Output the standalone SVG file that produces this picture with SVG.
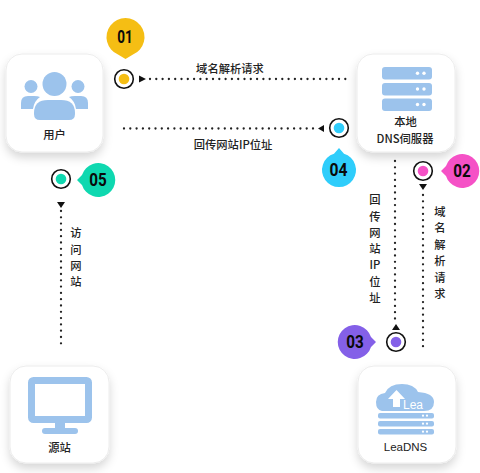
<svg xmlns="http://www.w3.org/2000/svg" width="480" height="473" viewBox="0 0 480 473">
<defs>
<filter id="sh" x="-30%" y="-30%" width="160%" height="170%"><feDropShadow dx="0" dy="5" stdDeviation="5" flood-color="#000" flood-opacity="0.16"/></filter>
</defs>
<style>
.card{fill:#fff;stroke:#ececec;stroke-width:1;filter:url(#sh)}
.ic{fill:#9CC3EC}
.wh{fill:#fff}
.lb{font-family:"Noto Sans CJK SC","Liberation Sans",sans-serif;font-size:11.300px;font-weight:500;fill:#222;text-anchor:middle}
.en{font-family:"Liberation Sans",sans-serif;font-size:11.500px;font-weight:400}
.bd{font-family:Roboto,"Liberation Sans",sans-serif;font-weight:700;font-size:17.500px;fill:#0a0a0a;text-anchor:middle}
.dot{fill:none;stroke:#222;stroke-width:2.300;stroke-linecap:round;stroke-dasharray:0 6.300}
.ring{fill:#fff;stroke:#111;stroke-width:1.600}
</style>
<rect width="480" height="473" fill="#fff"/>
<g id="connectors">
<path class="dot" d="M150 79H348"/>
<path class="dot" d="M313 128.500H120"/>
<path class="dot" d="M395 161V323"/>
<path class="dot" d="M423 195V348"/>
<path class="dot" d="M61 211V346"/>
<path d="M139 75.500L146 79L139 82.500Z" fill="#111"/>
<path d="M324 125L318 128.500L324 132Z" fill="#111"/>
<path d="M419 184L423 190L427 184Z" fill="#111"/>
<path d="M392 330L396 324L400 330Z" fill="#111"/>
<path d="M57 202L61 208L65 202Z" fill="#111"/>
</g>
<g id="node-user">
<rect class="card" x="6" y="54" width="97" height="98" rx="16"/>
<circle class="ic" cx="54.500" cy="84" r="12"/>
<circle class="ic" cx="31" cy="86.500" r="6.500"/>
<circle class="ic" cx="78" cy="86.500" r="6.500"/>
<path class="ic" d="M21 109V103Q21 96 28 96H34Q38 96 40 97Q34 101 33 109Z"/>
<path class="ic" d="M88 109V103Q88 96 81 96H75Q71 96 69 97Q75 101 76 109Z"/>
<path class="ic" d="M34 113Q34 100 48 100H61Q75 100 75 113V114Q75 120 69 120H40Q34 120 34 114Z"/>
<text class="lb" x="54.500" y="139">用户</text>
</g>
<g id="node-dns">
<rect class="card" x="357" y="54" width="98" height="98" rx="16"/>
<rect class="ic" x="382" y="67" width="50" height="12.500" rx="3"/>
<rect class="ic" x="382" y="83" width="50" height="12.500" rx="3"/>
<rect class="ic" x="382" y="98.500" width="50" height="12.500" rx="3"/>
<g class="wh"><circle cx="417.500" cy="73.200" r="1.700"/><circle cx="424" cy="73.200" r="1.700"/><circle cx="417.500" cy="89" r="1.700"/><circle cx="424" cy="89" r="1.700"/><circle cx="417.500" cy="104.500" r="1.700"/><circle cx="424" cy="104.500" r="1.700"/></g>
<text class="lb" x="405.500" y="126">本地</text>
<text class="lb" x="405" y="143">DNS伺服器</text>
</g>
<g id="node-leadns">
<rect class="card" x="358" y="366" width="98" height="97" rx="16"/>
<path class="ic" d="M382 411Q376 410 376 402Q376 394 385 393Q389 384 402 384Q414 384 418 392Q434 393 434 402Q434 411 424 411Z"/>
<path class="wh" d="M388 399L396.500 390L405 399H400V407H393V399Z"/>
<text x="403" y="409" font-family="Liberation Sans,sans-serif" font-size="12" fill="#fff">Lea</text>
<rect class="ic" x="378" y="413" width="56" height="5.500" rx="2"/>
<rect class="ic" x="378" y="421" width="56" height="5.500" rx="2"/>
<rect class="ic" x="378" y="429" width="56" height="5.500" rx="2"/>
<g class="wh"><circle cx="423" cy="415.700" r="1.100"/><circle cx="427" cy="415.700" r="1.100"/><circle cx="423" cy="423.700" r="1.100"/><circle cx="427" cy="423.700" r="1.100"/><circle cx="423" cy="431.700" r="1.100"/><circle cx="427" cy="431.700" r="1.100"/></g>
<text class="lb en" x="405.500" y="451">LeaDNS</text>
</g>
<g id="node-origin">
<rect class="card" x="10" y="366" width="99" height="97" rx="16"/>
<rect x="31.500" y="380.500" width="57" height="39" rx="2" fill="#fff" stroke="#9CC3EC" stroke-width="7"/>
<rect class="ic" x="55" y="423" width="10" height="6"/>
<rect class="ic" x="42" y="428" width="36" height="6" rx="3"/>
<text class="lb" x="59.500" y="452">源站</text>
</g>
<g id="step-01">
<path d="M125.500 59L118 54.500A19 19 0 1 1 133 54.500Z" fill="#F5BE14"/>
<text class="bd" x="125" y="43" textLength="15.500" lengthAdjust="spacingAndGlyphs">01</text>
<circle class="ring" cx="124" cy="79" r="9.300"/><circle cx="124" cy="79" r="5.300" fill="#F5BE14"/>
</g>
<g id="step-02">
<path d="M441 171L446 166A17 17 0 1 1 446 176Z" fill="#F551C6"/>
<text class="bd" x="462" y="177" textLength="17.500" lengthAdjust="spacingAndGlyphs">02</text>
<circle class="ring" cx="423" cy="171" r="9.300"/><circle cx="423" cy="171" r="5.300" fill="#F551C6"/>
</g>
<g id="step-03">
<path d="M376 342L371 347A17 17 0 1 1 371 337Z" fill="#8460E8"/>
<text class="bd" x="355" y="348" textLength="17.500" lengthAdjust="spacingAndGlyphs">03</text>
<circle class="ring" cx="396" cy="342" r="9.300"/><circle cx="396" cy="342" r="5.300" fill="#8460E8"/>
</g>
<g id="step-04">
<path d="M339 148L344 153.800A17 17 0 1 1 334 153.800Z" fill="#2FCDFB"/>
<text class="bd" x="338.500" y="176" textLength="18" lengthAdjust="spacingAndGlyphs">04</text>
<circle class="ring" cx="339" cy="128" r="9.300"/><circle cx="339" cy="128" r="5.300" fill="#2FCDFB"/>
</g>
<g id="step-05">
<path d="M77 180L82 175A17 17 0 1 1 82 185Z" fill="#0FD8B0"/>
<text class="bd" x="98" y="186" textLength="17.500" lengthAdjust="spacingAndGlyphs">05</text>
<circle class="ring" cx="61" cy="179" r="9.300"/><circle cx="61" cy="179" r="5.300" fill="#0FD8B0"/>
</g>
<g id="labels">
<text class="lb" x="230" y="73">域名解析请求</text>
<text class="lb" x="233" y="149">回传网站IP位址</text>
<g class="lb"><text x="76" y="237">访</text><text x="76" y="254">问</text><text x="76" y="270">网</text><text x="76" y="286">站</text>
<text x="375" y="204">回</text><text x="375" y="221">传</text><text x="375" y="237">网</text><text x="375" y="253">站</text><text x="375" y="269">IP</text><text x="375" y="286">位</text><text x="375" y="302">址</text>
<text x="440" y="216">域</text><text x="440" y="232">名</text><text x="440" y="249">解</text><text x="440" y="265">析</text><text x="440" y="282">请</text><text x="440" y="298">求</text></g>
</g>
</svg>
